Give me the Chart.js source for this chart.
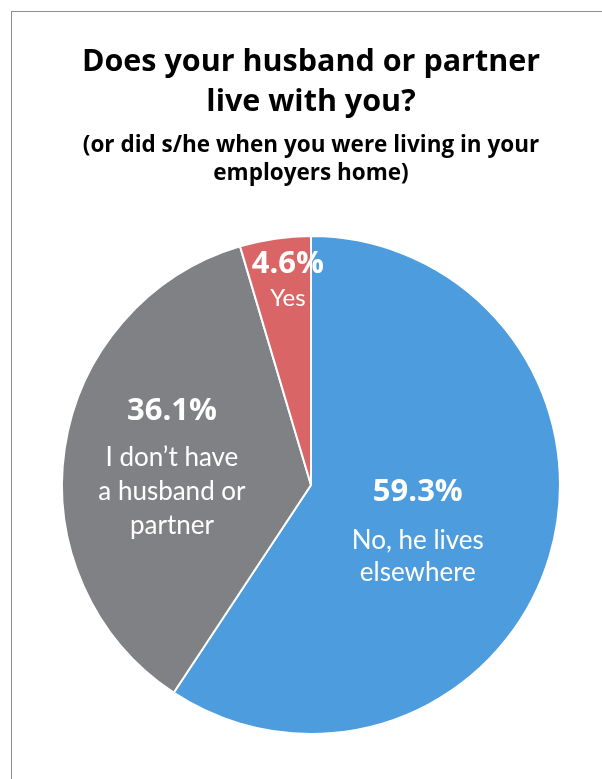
<!DOCTYPE html>
<html>
<head>
<meta charset="utf-8">
<script src="https://cdn.jsdelivr.net/npm/chart.js@4"></script>
<style>
  html, body { margin: 0; padding: 0; background: #fff; }
  #wrap { position: relative; width: 602px; height: 779px; overflow: hidden; }
  #frame {
    position: absolute; left: 11px; top: 11px; width: 700px; height: 900px;
    border-left: 1.5px solid #8e8e8e; border-top: 1.5px solid #8e8e8e;
  }
  canvas { position: absolute; left: 0; top: 0; }
</style>
</head>
<body>
<div id="wrap">
  <div id="frame"></div>
  <canvas id="myChart" width="602" height="779"></canvas>
</div>
<script>
// Chart data
const categories = ["No, he lives elsewhere", "I don't have a husband or partner", "Yes"];
const shares = [59.3, 36.1, 4.6];
const sliceColors = ["#4d9cdd", "#808185", "#da6566"];

// Text inside each slice (line breaks as in the original)
const sliceLabels = [
  ["No, he lives", "elsewhere"],
  ["I don\u2019t have", "a husband or", "partner"],
  ["Yes"]
];

// Where the text block sits: fraction of radius, angle shift (deg), sizes
const labelPlacement = [
  { frac: 0.43, shift: -13, gap: 49, line: 32, size: 26 },
  { frac: 0.633, shift: 19.6, gap: 47, line: 34, size: 26 },
  { frac: 0.89, shift: 2.3, gap: 34, line: 30, size: 24 }
];

const FONT = "Lato, 'Open Sans', sans-serif";
const BOLD_FONT = "'Open Sans', Lato, sans-serif";

// Draws the percent + category text inside the slices
const sliceText = {
  id: "sliceText",
  afterDatasetsDraw(chart) {
    const ctx = chart.ctx;
    const arcs = chart.getDatasetMeta(0).data;
    ctx.save();
    ctx.fillStyle = "#ffffff";
    ctx.textAlign = "center";
    ctx.textBaseline = "middle";
    arcs.forEach((arc, i) => {
      const p = labelPlacement[i];
      const mid = (arc.startAngle + arc.endAngle) / 2 + p.shift * Math.PI / 180;
      const r = arc.outerRadius * p.frac;
      const x = arc.x + Math.cos(mid) * r;
      const y = arc.y + Math.sin(mid) * r;
      ctx.font = "bold 31px " + BOLD_FONT;
      ctx.fillText(shares[i].toFixed(1) + "%", x, y);
      ctx.font = p.size + "px " + FONT;
      sliceLabels[i].forEach((t, k) => {
        ctx.fillText(t, x, y + p.gap + k * p.line);
      });
    });
    ctx.restore();
  }
};

const data = {
  labels: categories,
  datasets: [
    {
      data: shares,
      backgroundColor: sliceColors,
      borderColor: "#ffffff",
      borderWidth: 2,
    },
  ],
};

const config = {
  type: "pie",
  data: data,
  options: {
    responsive: false,
    animation: false,
    layout: {
      padding: { left: 61, right: 41, top: 0, bottom: 44 },
    },
    plugins: {
      legend: { display: false },
      tooltip: { enabled: false },
      title: {
        display: true,
        text: ["Does your husband or partner", "live with you?"],
        color: "#000000",
        font: { family: BOLD_FONT, size: 30.5, weight: "bold", lineHeight: 1.31 },
        padding: { top: 42, bottom: 4 },
      },
      subtitle: {
        display: true,
        text: ["(or did s/he when you were living in your", "employers home)"],
        color: "#000000",
        font: { family: BOLD_FONT, size: 22.5, weight: "bold", lineHeight: 1.27 },
        padding: { top: 5.25, bottom: 46.75 },
      },
    },
  },
  plugins: [sliceText],
};

const myChart = new Chart(document.getElementById("myChart").getContext("2d"), config);
</script>
</body>
</html>
